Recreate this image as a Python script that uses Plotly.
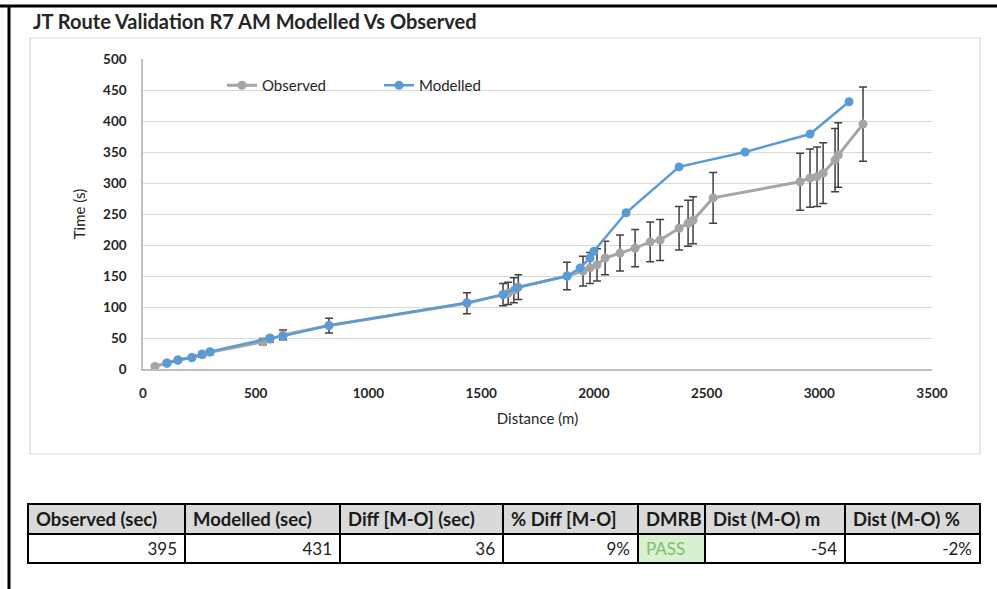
import plotly.graph_objects as go

# ---------------- data ----------------
obs_dist = [53, 106, 155, 217, 262, 297, 532, 563, 621, 825, 1437, 1597, 1620, 1645, 1665,
            1881, 1952, 1983, 2014, 2050, 2116, 2183, 2250, 2294, 2378, 2418, 2440, 2529,
            2915, 2959, 2990, 3017, 3070, 3084, 3194]
obs_time = [4, 10, 15, 19, 23, 27, 44, 48, 55, 70, 106, 120, 122, 127, 132,
            150, 158, 163, 168, 179, 187, 195, 205, 208, 227, 235, 240, 276,
            302, 308, 310, 316, 337, 345, 395]
obs_err = [2, 3, 3, 3, 4, 4, 5, 5, 8, 12, 17, 18, 18, 20, 20,
           22, 24, 25, 26, 27, 29, 30, 32, 33, 35, 37, 38, 41,
           46, 47, 48, 49, 51, 52, 60]

mod_dist = [106, 155, 217, 262, 297, 563, 621, 825, 1437, 1597, 1659, 1881, 1939, 1983,
            2000, 2143, 2378, 2671, 2959, 3132]
mod_time = [9, 14, 18, 24, 28, 50, 53, 70, 107, 120, 131, 150, 163, 179,
            190, 252, 326, 350, 379, 431]

y_ticks = [0, 50, 100, 150, 200, 250, 300, 350, 400, 450, 500]
x_ticks = [0, 500, 1000, 1500, 2000, 2500, 3000, 3500]

table_headers = ["Observed (sec)", "Modelled (sec)", "Diff [M-O] (sec)", "% Diff [M-O]",
                 "DMRB", "Dist (M-O) m", "Dist (M-O) %"]
table_values = ["395", "431", "36", "9%", "PASS", "-54", "-2%"]

title_text = "JT Route Validation R7 AM Modelled Vs Observed"

# ---------------- figure ----------------
W, H = 997, 589
FONT = "Lato, 'Open Sans', sans-serif"

def px_x(p):
    return p / W

def px_y(p):
    return 1 - p / H

fig = go.Figure()

fig.add_trace(go.Scatter(
    x=obs_dist, y=obs_time, name="Observed", mode="lines+markers",
    line=dict(color="#a5a5a5", width=3),
    marker=dict(color="#a5a5a5", size=9),
    error_y=dict(type="data", array=obs_err, visible=True,
                 color="#404040", thickness=1.5, width=4),
))
fig.add_trace(go.Scatter(
    x=mod_dist, y=mod_time, name="Modelled", mode="lines+markers",
    line=dict(color="#5b9bd5", width=2.5),
    marker=dict(color="#5b9bd5", size=9),
))

# summary table
cell_fill = ["white"] * len(table_values)
cell_fill[4] = "#d9f0d3"
cell_color = ["#222222"] * len(table_values)
cell_color[4] = "#7dc26b"
cell_align = ["right"] * len(table_values)
cell_align[4] = "left"

fig.add_trace(go.Table(
    domain=dict(x=[px_x(28), px_x(980)], y=[px_y(564), px_y(504)]),
    columnwidth=[157, 155, 163, 135, 67, 140, 135],
    header=dict(values=table_headers, fill_color="#d9d9d9",
                line=dict(color="black", width=2), align="left", height=30,
                font=dict(family=FONT, size=18.5, color="#1a1a1a", weight="bold")),
    cells=dict(values=[[v] for v in table_values],
               fill_color=[[c] for c in cell_fill],
               line=dict(color="black", width=2),
               align=cell_align, height=29,
               font=dict(family=FONT, size=17, color=[[c] for c in cell_color])),
))

fig.update_layout(
    width=W, height=H,
    margin=dict(l=0, r=0, t=0, b=0),
    paper_bgcolor="white", plot_bgcolor="white",
    font=dict(family=FONT, color="#404040"),
    title=dict(text=title_text, x=px_x(33), xanchor="left", y=px_y(22), yanchor="middle",
               font=dict(family=FONT, size=20, color="#262626", weight="bold")),
    showlegend=True,
    legend=dict(orientation="h", x=px_x(222), y=px_y(69), xanchor="left", yanchor="top",
                bgcolor="rgba(0,0,0,0)", font=dict(family=FONT, size=15, color="#262626"),
                entrywidth=112, entrywidthmode="pixels"),
    xaxis=dict(domain=[px_x(143), px_x(932)], range=[0, 3500], tickvals=x_ticks,
               showgrid=False, zeroline=False, showline=True, linecolor="#bfbfbf", linewidth=1.5,
               tickfont=dict(family=FONT, size=13.5, color="#262626", weight="bold"),
               ticklabelstandoff=11,
               title=dict(text="Distance (m)", font=dict(family=FONT, size=15, color="#262626"),
                          standoff=14),
               ticks="", automargin=False, fixedrange=True),
    yaxis=dict(domain=[px_y(369), px_y(59)], range=[0, 500], tickvals=y_ticks,
               showgrid=True, gridcolor="#d9d9d9", gridwidth=1, zeroline=False,
               showline=True, linecolor="#bfbfbf", linewidth=1.5,
               tickfont=dict(family=FONT, size=13.5, color="#262626", weight="bold"),
               ticklabelstandoff=12,
               title=dict(text="Time (s)", font=dict(family=FONT, size=15, color="#262626"),
                          standoff=14),
               ticks="", automargin=False, fixedrange=True),
    shapes=[
        # outer frame lines
        dict(type="line", xref="paper", yref="paper", x0=0, x1=1, y0=px_y(6), y1=px_y(6),
             line=dict(color="black", width=3)),
        dict(type="line", xref="paper", yref="paper", x0=px_x(9), x1=px_x(9), y0=px_y(5), y1=0,
             line=dict(color="black", width=3)),
        # chart area border
        dict(type="rect", xref="paper", yref="paper", x0=px_x(30), x1=px_x(980),
             y0=px_y(454), y1=px_y(38), line=dict(color="#d9d9d9", width=1.2),
             fillcolor="rgba(0,0,0,0)", layer="below"),
    ],
)

fig.write_html("out.html")
